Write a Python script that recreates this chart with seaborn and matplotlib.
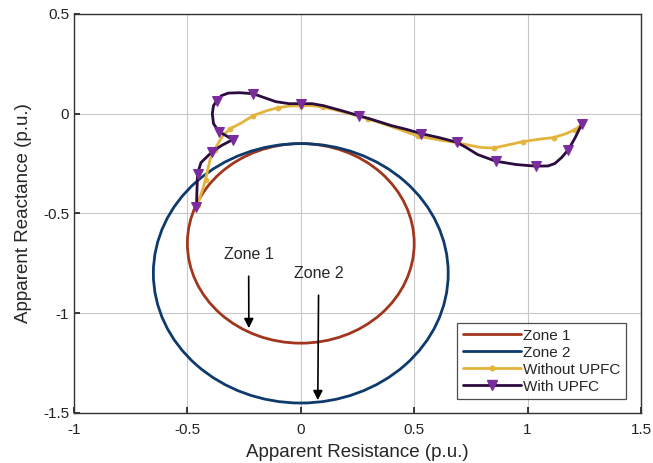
import matplotlib
matplotlib.use("Agg")
import matplotlib.pyplot as plt
from matplotlib.patches import Circle
from matplotlib.lines import Line2D
import seaborn as sns
import pandas as pd

# Mho relay zones: centre (R, X) and radius in p.u.
zone1_center = (0.0, -0.65)
zone1_radius = 0.5
zone2_center = (0.0, -0.80)
zone2_radius = 0.65

# Apparent impedance trajectory without UPFC
without_r = [-0.455, -0.445, -0.43, -0.42, -0.41, -0.40, -0.38, -0.36, -0.34, -0.31,
             -0.26, -0.21, -0.15, -0.10, -0.05, 0.0, 0.05, 0.10, 0.20, 0.295,
             0.40, 0.515, 0.617, 0.687, 0.75, 0.80, 0.85, 0.92, 0.98, 1.05,
             1.115, 1.17, 1.21, 1.25]
without_x = [-0.46, -0.42, -0.37, -0.33, -0.28, -0.23, -0.18, -0.14, -0.105, -0.075,
             -0.045, -0.01, 0.015, 0.03, 0.038, 0.04, 0.04, 0.033, 0.005, -0.025,
             -0.065, -0.112, -0.133, -0.145, -0.16, -0.17, -0.172, -0.155, -0.14, -0.128,
             -0.12, -0.10, -0.08, -0.045]
without_markers = [0, 3, 6, 9, 11, 13, 15, 17, 19, 21, 23, 26, 28, 30, 32]

# Apparent impedance trajectory with UPFC
with_r = [-0.46, -0.458, -0.455, -0.44, -0.39, -0.35, -0.30, -0.36, -0.385, -0.39,
          -0.385, -0.37, -0.35, -0.32, -0.27, -0.21, -0.16, -0.11, -0.05, 0.0,
          0.05, 0.10, 0.18, 0.256, 0.33, 0.40, 0.47, 0.53, 0.61, 0.687,
          0.73, 0.78, 0.859, 0.95, 1.035, 1.09, 1.12, 1.15, 1.18, 1.21,
          1.24]
with_x = [-0.47, -0.39, -0.30, -0.245, -0.19, -0.16, -0.13, -0.09, -0.05, 0.0,
          0.04, 0.065, 0.09, 0.103, 0.105, 0.10, 0.08, 0.06, 0.05, 0.05,
          0.05, 0.04, 0.015, -0.01, -0.035, -0.06, -0.08, -0.10, -0.12, -0.143,
          -0.17, -0.205, -0.238, -0.255, -0.263, -0.262, -0.25, -0.22, -0.18, -0.12,
          -0.05]
with_markers = [0, 2, 4, 6, 7, 11, 15, 19, 23, 27, 29, 32, 34, 38, 40]

x_ticks = [-1, -0.5, 0, 0.5, 1, 1.5]
y_ticks = [-1.5, -1, -0.5, 0, 0.5]

c_zone1 = "#A2361C"
c_zone2 = "#0E3A6C"
c_without = "#E2B43C"
c_with_line = "#2C0B3E"
c_with_marker = "#7B2C9C"

sns.set_theme(style="white")
plt.rcParams["font.family"] = ["Liberation Sans", "DejaVu Sans"]

fig = plt.figure(figsize=(6.53, 4.63), dpi=100)
ax = fig.add_axes([0.1133, 0.108, 0.8683, 0.862])

ax.add_patch(Circle(zone1_center, zone1_radius, fill=False, ec=c_zone1, lw=2.0, zorder=3))
ax.add_patch(Circle(zone2_center, zone2_radius, fill=False, ec=c_zone2, lw=2.0, zorder=3))

df_without = pd.DataFrame({"R": without_r, "X": without_x})
df_with = pd.DataFrame({"R": with_r, "X": with_x})

sns.lineplot(data=df_without, x="R", y="X", sort=False, estimator=None, ax=ax,
             color=c_without, lw=2.0, marker="o", markersize=3.4,
             markeredgecolor=c_without, markevery=without_markers, zorder=4)
sns.lineplot(data=df_with, x="R", y="X", sort=False, estimator=None, ax=ax,
             color=c_with_line, lw=2.0, marker="v", markersize=7,
             markerfacecolor=c_with_marker, markeredgecolor=c_with_marker,
             markevery=with_markers, zorder=5)

# Zone annotations
ax.annotate("Zone 1", xy=(-0.229, -1.075), xytext=(-0.23, -0.705),
            ha="center", va="center", fontsize=11.5,
            arrowprops=dict(arrowstyle="-|>", color="black", lw=1.2,
                            mutation_scale=14, shrinkA=8, shrinkB=0))
ax.annotate("Zone 2", xy=(0.075, -1.436), xytext=(0.079, -0.80),
            ha="center", va="center", fontsize=11.5,
            arrowprops=dict(arrowstyle="-|>", color="black", lw=1.2,
                            mutation_scale=14, shrinkA=8, shrinkB=0))

ax.set_xlim(-1, 1.5)
ax.set_ylim(-1.5, 0.5)
ax.set_xticks(x_ticks)
ax.set_yticks(y_ticks)
ax.set_xticklabels([f"{t:g}" for t in x_ticks])
ax.set_yticklabels([f"{t:g}" for t in y_ticks])
ax.grid(True, color="#c8c8c8", lw=0.8)
ax.tick_params(direction="in", length=4, labelsize=11, colors="#222222",
               bottom=True, left=True, top=False, right=False)
ax.tick_params(axis="x", pad=7)
for s in ax.spines.values():
    s.set_color("#333333")
    s.set_linewidth(1.0)

ax.set_xlabel("Apparent Resistance (p.u.)", fontsize=13.5, labelpad=5)
ax.set_ylabel("Apparent Reactance (p.u.)", fontsize=13.5, labelpad=8)

handles = [
    Line2D([], [], color=c_zone1, lw=2.0),
    Line2D([], [], color=c_zone2, lw=2.0),
    Line2D([], [], color=c_without, lw=2.0, marker="o", markersize=3.4),
    Line2D([], [], color=c_with_line, lw=2.0, marker="v", markersize=7,
           markerfacecolor=c_with_marker, markeredgecolor=c_with_marker),
]
labels = ["Zone 1", "Zone 2", "Without UPFC", "With UPFC"]
leg = ax.legend(handles, labels, loc="lower right", bbox_to_anchor=(0.973, 0.035),
                fontsize=11, handlelength=3.8, handletextpad=0.15,
                labelspacing=0.2, borderpad=0.35, borderaxespad=0.0,
                frameon=True, fancybox=False, edgecolor="#222222")
leg.get_frame().set_linewidth(0.9)

fig.savefig("out.png", dpi=100)
